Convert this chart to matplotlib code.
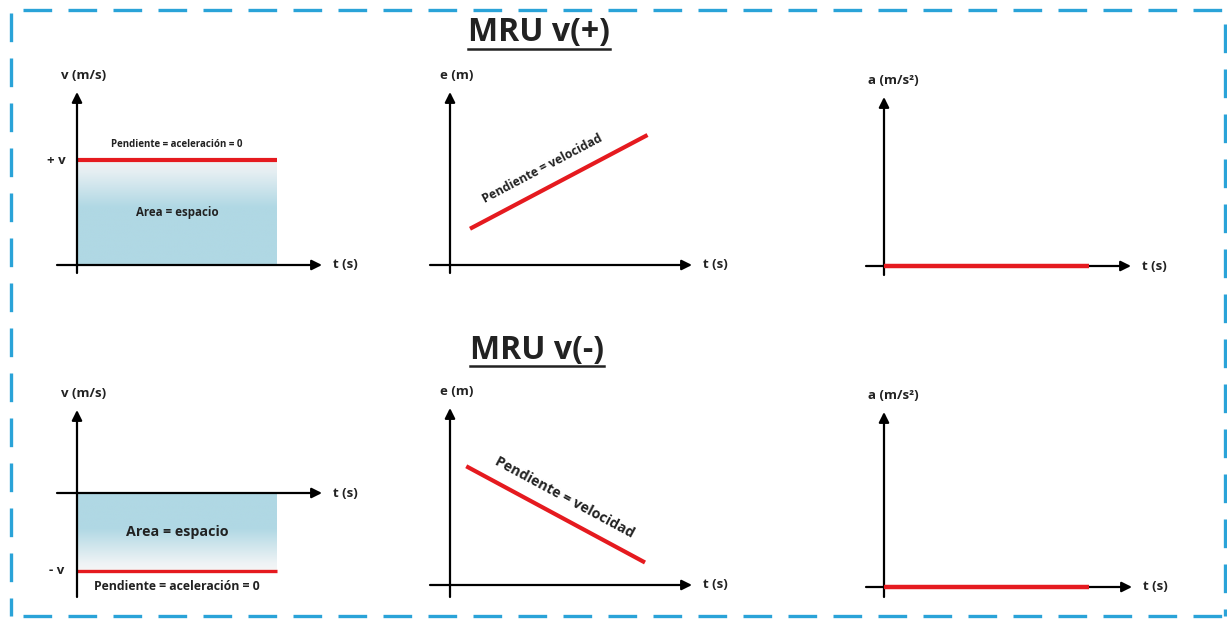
import numpy as np
import matplotlib.pyplot as plt
from matplotlib.lines import Line2D
from matplotlib.colors import to_rgb

plt.rcParams['font.family'] = ['Open Sans', 'DejaVu Sans']
plt.rcParams['font.weight'] = 'bold'

W, H = 1227, 619
S = 25.0  # pixels per data unit

# data for the six sketches
t_end = 8.0
v_pos = 4.2
v_neg = -3.1
e_up_t = [0.8, 7.9]
e_up_e = [1.45, 5.2]
e_down_t = [0.65, 7.8]
e_down_e = [4.75, 0.9]
a_t = [0.0, 8.2]
a_val = [0.0, 0.0]

titles = ['MRU v(+)', 'MRU v(-)']
ylabels = ['v (m/s)', 'e (m)', 'a (m/s²)']

RED = '#e51a1f'
BLUE = '#b0d8e4'
BORDER = '#2aa3d8'
INK = '#222222'

fig = plt.figure(figsize=(W / 100, H / 100), dpi=100)


def panel(ox, oy, x0, x1, ytop, ybot, ylab, ylab_dx=7):
    ax = fig.add_axes([x0 / W, 1 - ybot / H, (x1 - x0) / W, (ybot - ytop) / H])
    ax.set_xlim((x0 - ox) / S, (x1 - ox) / S)
    ax.set_ylim((oy - ybot) / S, (oy - ytop) / S)
    ax.axis('off')
    xl, yl = ax.get_xlim(), ax.get_ylim()
    arrow = dict(arrowstyle='-|>', color='black', lw=1.6, mutation_scale=15,
                 shrinkA=0, shrinkB=0)
    ax.annotate('', xy=(xl[1], 0), xytext=(xl[0], 0), arrowprops=arrow)
    ax.annotate('', xy=(0, yl[1]), xytext=(0, yl[0]), arrowprops=arrow)
    ax.annotate('t (s)', xy=(xl[1], 0), xytext=(8, 0), textcoords='offset points',
                ha='left', va='center', fontsize=9.5, color=INK, annotation_clip=False)
    ax.annotate(ylab, xy=(0, yl[1]), xytext=(ylab_dx * 0.72, 12), textcoords='offset points',
                ha='center', va='center', fontsize=9.5, color=INK, annotation_clip=False)
    return ax


def gradient(ax, y0, y1, stops, colors):
    pos = np.linspace(0, 1, 200)
    rgb = np.array([to_rgb(c) for c in colors])
    img = np.stack([np.interp(pos, stops, rgb[:, k]) for k in range(3)], axis=-1)
    ax.imshow(img[:, None, :], extent=(0, t_end, y0, y1), aspect='auto',
              origin='upper', zorder=0, interpolation='bilinear')


# ---- top row
ax1 = panel(77, 265, 57, 322, 92, 273, ylabels[0])
gradient(ax1, 0, v_pos, [0, 0.12, 0.45, 1], ['#f1f2f3', '#e4eef2', BLUE, BLUE])
ax1.plot([0, t_end], [v_pos, v_pos], color=RED, lw=3, solid_capstyle='butt')
ax1.annotate('+ v', xy=(0, v_pos), xytext=(-8, 0), textcoords='offset points',
             ha='right', va='center', fontsize=9.5, color=INK)
ax1.annotate('Pendiente = aceleración = 0', xy=(t_end / 2, v_pos), xytext=(0, 11),
             textcoords='offset points', ha='center', va='center', fontsize=7, color=INK)
ax1.text(t_end / 2, v_pos / 2, 'Area = espacio', ha='center', va='center',
         fontsize=8.3, color=INK)

ax2 = panel(450, 265, 430, 692, 92, 273, ylabels[1])
ax2.plot(e_up_t, e_up_e, color=RED, lw=3, solid_capstyle='butt')
ang = np.degrees(np.arctan2(e_up_e[1] - e_up_e[0], e_up_t[1] - e_up_t[0]))
r = np.radians(ang)
ax2.annotate('Pendiente = velocidad', xy=(np.mean(e_up_t) - 0.3, np.mean(e_up_e) - 0.16),
             xytext=(-14 * np.sin(r), 14 * np.cos(r)), textcoords='offset points',
             ha='center', va='center', rotation=ang, fontsize=8.8, color=INK)

ax3 = panel(884, 266, 866, 1131, 97, 275, ylabels[2], ylab_dx=9)
ax3.plot(a_t, a_val, color=RED, lw=3.2, solid_capstyle='butt', zorder=3)

# ---- bottom row
ax4 = panel(77, 493, 57, 322, 410, 597, ylabels[0])
gradient(ax4, v_neg, 0, [0, 0.45, 0.9, 1], [BLUE, BLUE, '#eef3f5', '#f6f6f6'])
ax4.plot([0, t_end], [v_neg, v_neg], color=RED, lw=2.4, solid_capstyle='butt')
ax4.annotate('- v', xy=(0, v_neg), xytext=(-9, 0), textcoords='offset points',
             ha='right', va='center', fontsize=9.5, color=INK)
ax4.annotate('Pendiente = aceleración = 0', xy=(t_end / 2, v_neg), xytext=(0, -11.5),
             textcoords='offset points', ha='center', va='center', fontsize=8.8, color=INK)
ax4.text(t_end / 2, v_neg / 2, 'Area = espacio', ha='center', va='center',
         fontsize=10.3, color=INK)

ax5 = panel(450, 585, 430, 692, 408, 597, ylabels[1])
ax5.plot(e_down_t, e_down_e, color=RED, lw=3, solid_capstyle='butt')
ang = np.degrees(np.arctan2(e_down_e[1] - e_down_e[0], e_down_t[1] - e_down_t[0]))
r = np.radians(ang)
ax5.annotate('Pendiente = velocidad', xy=(np.mean(e_down_t), np.mean(e_down_e)),
             xytext=(-14 * np.sin(r), 14 * np.cos(r)), textcoords='offset points',
             ha='center', va='center', rotation=ang, fontsize=10.3, color=INK)

ax6 = panel(884, 587, 866, 1132, 412, 597, ylabels[2], ylab_dx=9)
ax6.plot(a_t, a_val, color=RED, lw=3.2, solid_capstyle='butt', zorder=3)

# ---- titles with underline
tt = [fig.text(539 / W, 1 - 33 / H, titles[0], ha='center', va='center',
               fontsize=23, color=INK),
      fig.text(537 / W, 1 - 350 / H, titles[1], ha='center', va='center',
               fontsize=23, color=INK)]
fig.canvas.draw()
for t in tt:
    bb = t.get_window_extent()
    yline = bb.y0 + 1
    fig.add_artist(Line2D([bb.x0 / W, bb.x1 / W], [yline / H, yline / H],
                          transform=fig.transFigure, color=INK, lw=1.8))

# ---- dashed frame
dash = dict(color=BORDER, lw=2.4, linestyle=(0, (8.6, 4.9)),
            transform=fig.transFigure, solid_capstyle='butt', dash_capstyle='butt')
fig.add_artist(Line2D([23 / W, 1225 / W], [1 - 10 / H, 1 - 10 / H], **dash))
fig.add_artist(Line2D([11 / W, 11 / W], [1 - 13 / H, 1 - 616 / H], **dash))
fig.add_artist(Line2D([1225 / W, 1225 / W], [1 - 24 / H, 1 - 616 / H], **dash))
fig.add_artist(Line2D([23 / W, 1225 / W], [1 - 616 / H, 1 - 616 / H], **dash))

fig.savefig('out.png', dpi=100)
